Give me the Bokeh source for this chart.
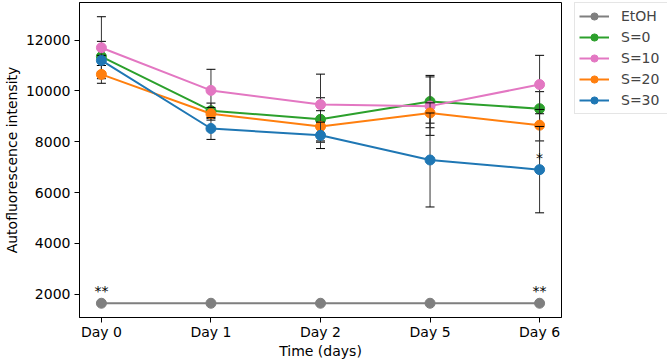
from bokeh.plotting import figure
from bokeh.models import Range1d, FixedTicker, Legend, LegendItem
from bokeh.layouts import row
from bokeh.embed import file_html
from bokeh.resources import INLINE
from bokeh.core.properties import value

# ---- data ----
days = ["Day 0", "Day 1", "Day 2", "Day 5", "Day 6"]
series_names = ["EtOH", "S=0", "S=10", "S=20", "S=30"]
colors = ["#7f7f7f", "#2ca02c", "#e377c2", "#ff7f0e", "#1f77b4"]

etoh_mean = [1640, 1640, 1640, 1640, 1640]
etoh_err = [0, 0, 0, 0, 0]
s0_mean = [11350, 9220, 8880, 9580, 9300]
s0_err = [600, 300, 850, 1030, 670]
s10_mean = [11700, 10020, 9460, 9400, 10250]
s10_err = [1220, 830, 1200, 1150, 1150]
s20_mean = [10650, 9100, 8600, 9130, 8650]
s20_err = [350, 250, 620, 400, 620]
s30_mean = [11200, 8520, 8250, 7280, 6900]
s30_err = [200, 430, 520, 1850, 1700]

ann_day = ["Day 0", "Day 6", "Day 6"]
ann_series = ["EtOH", "EtOH", "S=30"]
ann_text = ["**", "**", "*"]

y_ticks = [2000, 4000, 6000, 8000, 10000, 12000]

means = [etoh_mean, s0_mean, s10_mean, s20_mean, s30_mean]
errs = [etoh_err, s0_err, s10_err, s20_err, s30_err]

FONT = "DejaVu Sans"
H = 361
MAIN_W = 562
LEG_W = 105

xs = list(range(len(days)))
pos = {d: i for i, d in enumerate(days)}

p = figure(width=MAIN_W, height=H, output_backend="svg", toolbar_location=None,
           x_range=Range1d(-0.2, 4.2), y_range=Range1d(1079, 13480),
           min_border_left=76, min_border_right=1, min_border_top=2,
           min_border_bottom=44)
p.grid.visible = False
p.outline_line_color = "black"
p.outline_line_width = 1
p.outline_line_alpha = 1

p.xaxis.ticker = FixedTicker(ticks=xs)
p.xaxis.major_label_overrides = {i: d for i, d in enumerate(days)}
p.yaxis.ticker = FixedTicker(ticks=y_ticks)
p.xaxis.axis_label = "Time (days)"
p.yaxis.axis_label = "Autofluorescence intensity"

for ax in (p.xaxis[0], p.yaxis[0]):
    ax.major_label_text_font = FONT
    ax.major_label_text_font_size = "14px"
    ax.major_label_text_color = "black"
    ax.axis_label_text_font = FONT
    ax.axis_label_text_font_size = "14px"
    ax.axis_label_text_font_style = "normal"
    ax.axis_label_text_color = "black"
    ax.major_tick_out = 5
    ax.major_tick_in = 0
    ax.minor_tick_out = 0
    ax.minor_tick_in = 0
    ax.major_tick_line_color = "black"
    ax.axis_line_color = "black"
p.yaxis.major_label_standoff = 4
p.yaxis.axis_label_standoff = 3
p.xaxis.major_label_standoff = 1
p.xaxis.axis_label_standoff = 0

for name, col, m, e in zip(series_names, colors, means, errs):
    lo = [a - b for a, b in zip(m, e)]
    hi = [a + b for a, b in zip(m, e)]
    p.segment(x0=xs, y0=lo, x1=xs, y1=hi, line_color="#333333", line_width=1)
    p.scatter(x=xs, y=lo, marker="dash", size=9, line_color="black", line_width=1)
    p.scatter(x=xs, y=hi, marker="dash", size=9, line_color="black", line_width=1)
    p.line(x=xs, y=m, line_color=col, line_width=2)
    p.scatter(x=xs, y=m, size=10, fill_color=col, line_color=col)

ann_x = [pos[d] for d in ann_day]
ann_y = [means[series_names.index(s)][pos[d]] for s, d in zip(ann_series, ann_day)]
p.text(x=ann_x, y=ann_y, text=ann_text, text_font=value(FONT),
       text_font_size="14px", text_align="center", text_baseline="alphabetic",
       y_offset=-12, text_color="black")

# ---- legend panel (separate figure, same styles) ----
lf = figure(width=LEG_W, height=H, output_backend="svg", toolbar_location=None,
            x_range=Range1d(0, 1), y_range=Range1d(0, 1),
            min_border_left=12, min_border_right=0, min_border_top=1,
            min_border_bottom=0)
lf.axis.visible = False
lf.grid.visible = False
lf.outline_line_color = None

items = []
for name, col in zip(series_names, colors):
    lr = lf.line(x=[-5, -4], y=[-5, -5], line_color=col, line_width=2)
    sr = lf.scatter(x=[-5], y=[-5], size=10, fill_color=col, line_color=col)
    items.append(LegendItem(label=name, renderers=[lr, sr]))

legend = Legend(items=items, location="top_left", padding=4, spacing=3,
                glyph_width=30, glyph_height=18, label_height=18, label_width=44,
                label_standoff=12, label_text_font=FONT, label_text_font_size="14px",
                border_line_color="#cccccc", border_line_width=1,
                background_fill_alpha=0.8, margin=0)
lf.add_layout(legend)

layout = row(p, lf, spacing=0)
open("out.html", "w").write(file_html(layout, INLINE))
